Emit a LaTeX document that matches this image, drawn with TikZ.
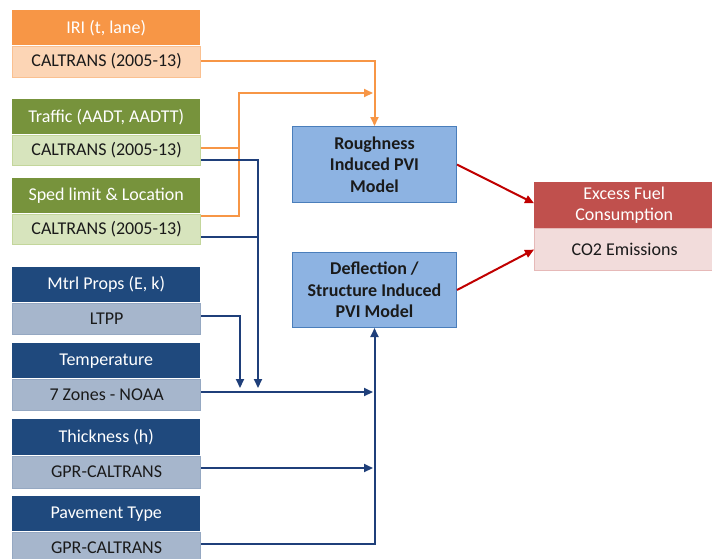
\documentclass[tikz,border=0pt]{standalone}
\usepackage{fontspec}
\setmainfont{Carlito}
\usetikzlibrary{arrows.meta,calc}
\definecolor{orH}{HTML}{F79646}
\definecolor{orS}{HTML}{FCD5B5}
\definecolor{orB}{HTML}{FAC090}
\definecolor{grH}{HTML}{77933C}
\definecolor{grS}{HTML}{D7E4BD}
\definecolor{grB}{HTML}{C3D69B}
\definecolor{nvH}{HTML}{1F497D}
\definecolor{nvS}{HTML}{A6B6CC}
\definecolor{nvB}{HTML}{95A8C2}
\definecolor{mdF}{HTML}{8DB3E2}
\definecolor{mdB}{HTML}{4A7EBB}
\definecolor{rdH}{HTML}{C0504D}
\definecolor{rdS}{HTML}{F2DCDB}
\definecolor{rdB}{HTML}{E6B9B8}
\definecolor{lnO}{HTML}{F79646}
\definecolor{lnN}{HTML}{1F3F7A}
\definecolor{lnR}{HTML}{C00000}
\definecolor{txt}{HTML}{1A1A1A}
\begin{document}
\begin{tikzpicture}[x=1pt,y=-1pt,
  font=\fontsize{18}{21.5}\selectfont,
  hdr/.style={anchor=north west,minimum width=188pt,minimum height=35pt,inner sep=0pt,text=white},
  subbox/.style={anchor=north west,minimum width=188pt,minimum height=31pt,inner sep=0pt,text=txt,line width=1.2pt},
  model/.style={anchor=north west,minimum width=164pt,draw=mdB,fill=mdF,line width=1pt,inner sep=0pt,align=center,text=txt,font=\bfseries\fontsize{18}{21.5}\selectfont},
  tipA/.style={-{Triangle[length=9pt,width=8pt]}},
  oline/.style={draw=lnO,line width=2pt},
  nline/.style={draw=lnN,line width=2pt},
  rline/.style={draw=lnR,line width=2pt}]
\useasboundingbox (0,0) rectangle (712,558);
% left column
\node[hdr,fill=orH] (irih) at (12,10) {IRI (t, lane)};
\node[subbox,fill=orS,draw=orB] (iris) at (12,45.5) {CALTRANS (2005-13)};
\node[hdr,fill=grH] (trh) at (12,99) {Traffic (AADT, AADTT)};
\node[subbox,fill=grS,draw=grB,minimum height=30pt] (trs) at (12,134.5) {CALTRANS (2005-13)};
\node[hdr,fill=grH] (sph) at (12,178) {Sped limit \& Location};
\node[subbox,fill=grS,draw=grB,minimum height=30pt] (sps) at (12,213.5) {CALTRANS (2005-13)};
\node[hdr,fill=nvH] (mth) at (12,267) {Mtrl Props (E, k)};
\node[subbox,fill=nvS,draw=nvB] (mts) at (12,302.5) {LTPP};
\node[hdr,fill=nvH] (teh) at (12,343) {Temperature};
\node[subbox,fill=nvS,draw=nvB] (tes) at (12,378.5) {7 Zones - NOAA};
\node[hdr,fill=nvH,minimum height=36pt] (thh) at (12,419) {Thickness (h)};
\node[subbox,fill=nvS,draw=nvB,minimum height=32pt] (ths) at (12,455.5) {GPR-CALTRANS};
\node[hdr,fill=nvH] (pah) at (12,496) {Pavement Type};
\node[subbox,fill=nvS,draw=nvB,minimum height=31pt] (pas) at (12,531.5) {GPR-CALTRANS};
% models
\node[model,minimum height=76pt] (rough) at (292,126) {Roughness\\Induced PVI\\Model};
\node[model,minimum height=75pt] (defl) at (292,252) {Deflection /\\Structure Induced\\PVI Model};
% output
\node[anchor=north west,minimum width=180pt,minimum height=46pt,inner sep=0pt,fill=rdH,text=white,align=center,font=\fontsize{18}{21.5}\selectfont] (fuh) at (534,182) {Excess Fuel\\Consumption};
\node[anchor=north west,minimum width=180pt,minimum height=42pt,inner sep=0pt,fill=rdS,draw=rdB,line width=1.2pt,text=txt] (fus) at (534,228) {CO2 Emissions};
% coordinates
\coordinate (iriy) at (0,61);
\coordinate (oj) at (239,148);
\coordinate (ospy) at (239,216);
\coordinate (otop) at (239,93);
\coordinate (ovx) at (373,93);
\coordinate (nj1) at (258,160);
\coordinate (nj1b) at (258,237);
\coordinate (nj1e) at (258,388);
\coordinate (nj2) at (240,316);
\coordinate (nj2e) at (240,388);
\coordinate (tend) at (373,392);
\coordinate (hend) at (373,468);
\coordinate (pcor) at (0,544);
% orange connectors
\draw[oline,tipA] (iris.east |- iriy) -| (rough.north);
\draw[oline] (trs.east |- oj) -- (oj);
\draw[oline,tipA] (sps.east |- ospy) -- (ospy) -- (otop) -- (ovx);
% navy connectors
\draw[nline,tipA] (trs.east |- nj1) -- (nj1) -- (nj1e);
\draw[nline] (sps.east |- nj1b) -- (nj1b);
\draw[nline,tipA] (mts.east |- nj2) -- (nj2) -- (nj2e);
\draw[nline,tipA] (tes.east |- tend) -- (tend);
\draw[nline,tipA] (ths.east |- hend) -- (hend);
\draw[nline,tipA] (pas.east |- pcor) -| (defl.south);
% red connectors
\draw[rline,tipA] (rough.east) -- ([yshift=2pt]fuh.west);
\draw[rline,tipA] (defl.east) -- (fus.west);
\end{tikzpicture}
\end{document}
